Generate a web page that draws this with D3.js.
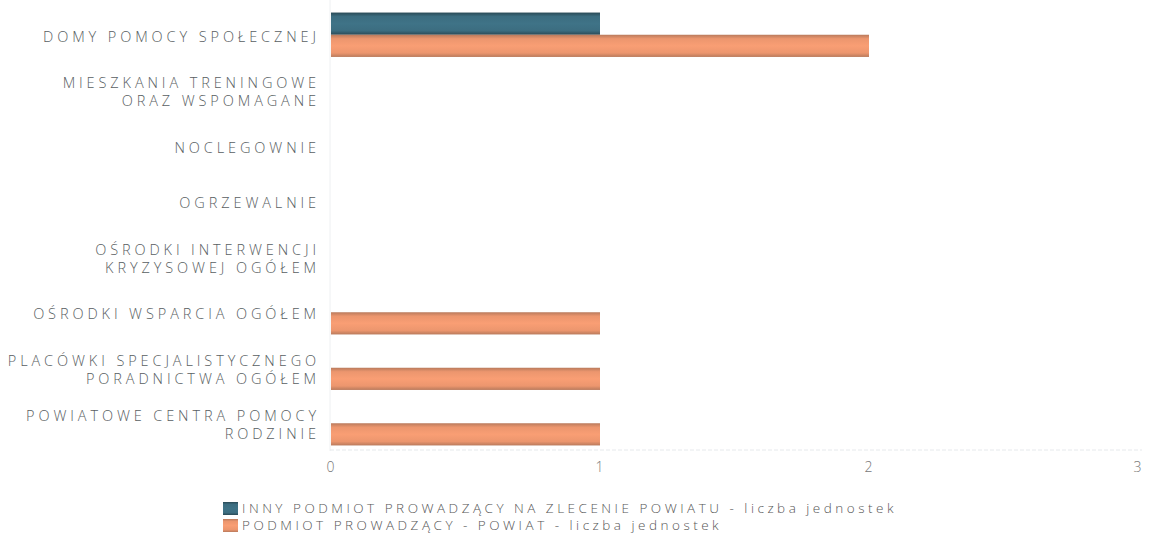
<!DOCTYPE html>
<html><head><meta charset="utf-8">
<script src="https://cdn.jsdelivr.net/npm/d3@7"></script>
<style>body{margin:0;background:#fff;} svg{display:block;}</style>
</head><body>
<svg id="c" width="1149" height="540"></svg>
<script>
const categories = [
  ["DOMY POMOCY SPOŁECZNEJ"],
  ["MIESZKANIA TRENINGOWE","ORAZ WSPOMAGANE"],
  ["NOCLEGOWNIE"],
  ["OGRZEWALNIE"],
  ["OŚRODKI INTERWENCJI","KRYZYSOWEJ OGÓŁEM"],
  ["OŚRODKI WSPARCIA OGÓŁEM"],
  ["PLACÓWKI SPECJALISTYCZNEGO","PORADNICTWA OGÓŁEM"],
  ["POWIATOWE CENTRA POMOCY","RODZINIE"]
];
const seriesNames = [
  "INNY PODMIOT PROWADZĄCY NA ZLECENIE POWIATU - liczba jednostek",
  "PODMIOT PROWADZĄCY - POWIAT - liczba jednostek"
];
const innyValues = [1,0,0,0,0,0,0,0];
const powiatValues = [2,0,0,0,0,1,1,1];
const tickValues = [0,1,2,3];
const colors = ["#3c6d80","#ec966e"];
const edgeColors = ["#2a4a56","#b97a5c"];

(function(){
const svg = d3.select("#c");
const pLeft = 330, pRight = 1137, pTop = 7, pBottom = 451;
const font = "'Open Sans', sans-serif";
const x = d3.scaleLinear().domain([0,3]).range([pLeft,pRight]);
const y = d3.scaleBand().domain(d3.range(categories.length)).range([pTop,pBottom]).paddingInner(0.2).paddingOuter(0.1);
const sub = d3.scaleBand().domain([0,1]).range([0,y.bandwidth()]);

const defs = svg.append("defs");
colors.forEach((c,i)=>{
  const g = defs.append("linearGradient").attr("id","g"+i).attr("x1",0).attr("x2",0).attr("y1",0).attr("y2",1);
  g.append("stop").attr("offset","0%").attr("stop-color",edgeColors[i]);
  g.append("stop").attr("offset","18%").attr("stop-color",c);
  g.append("stop").attr("offset","50%").attr("stop-color",d3.color(c).brighter(0.15));
  g.append("stop").attr("offset","82%").attr("stop-color",c);
  g.append("stop").attr("offset","100%").attr("stop-color",edgeColors[i]);
});

svg.append("line").attr("x1",pLeft).attr("x2",pLeft).attr("y1",0).attr("y2",pBottom)
  .attr("stroke","#eef0f2").attr("stroke-width",1);
svg.append("line").attr("x1",pLeft).attr("x2",pRight+5).attr("y1",pBottom-1).attr("y2",pBottom-1)
  .attr("stroke","#e6e9ec").attr("stroke-width",1).attr("stroke-dasharray","4,2");

const series = [innyValues, powiatValues];
series.forEach((vals,si)=>{
  const pts = vals.map((v,i)=>({v,i})).filter(d=>d.v>0);
  svg.append("g").selectAll("rect").data(pts).join("rect")
    .attr("x",x(0)+1)
    .attr("y",d=>y(d.i)+sub(si))
    .attr("width",d=>x(d.v)-x(0))
    .attr("height",sub.bandwidth())
    .attr("fill","url(#g"+si+")");
});

const lab = svg.append("g").attr("font-family",font).attr("font-weight",300).attr("font-size",14.5)
  .attr("fill","#585e62").attr("letter-spacing","3.9px").attr("text-anchor","end");
categories.forEach((lines,i)=>{
  const cy = y(i)+y.bandwidth()/2 + 2;
  const n = lines.length;
  lines.forEach((t,j)=>{
    lab.append("text").attr("x",320).attr("y",cy + (j-(n-1)/2)*18).attr("dy","0.35em").text(t);
  });
});

const ax = svg.append("g").attr("transform",`translate(0,${pBottom})`)
  .call(d3.axisBottom(x).tickValues(tickValues).tickSize(0).tickPadding(11).tickFormat(d3.format("d")));
ax.select(".domain").remove();
ax.selectAll("text").attr("font-family",font).attr("font-weight",300).attr("font-size",14).attr("fill","#777");

const lg = svg.append("g").attr("font-family",font).attr("font-weight",300).attr("font-size",13.5).attr("fill","#555").attr("letter-spacing","3.5px");
seriesNames.forEach((s,i)=>{
  const yy = 502 + i*17;
  lg.append("rect").attr("x",223).attr("y",yy).attr("width",15).attr("height",13).attr("fill","url(#g"+i+")");
  lg.append("text").attr("x",242).attr("y",yy+6.5).attr("dy","0.35em").text(s);
});
})();
</script>
</body></html>
